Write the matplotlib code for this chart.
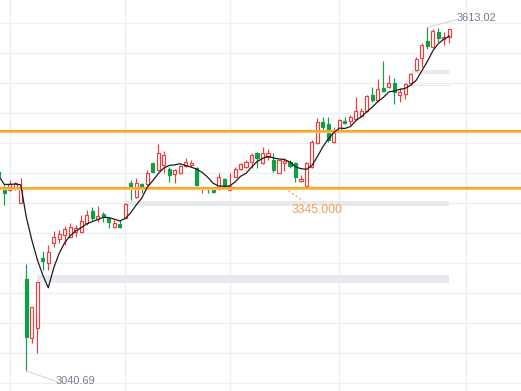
import matplotlib
matplotlib.use('Agg')
import matplotlib.pyplot as plt
import pandas as pd

# ---- data (index = trading day) ----
opens = [3372.1, 3343.8, 3342.1, 3343.3, 3320.5, 3193.8, 3095.5, 3112.1, 3228.8, 3220.5,
         3253.8, 3260.5, 3267.1, 3263.8, 3272.1, 3272.6, 3287.1, 3307.6, 3294.3, 3302.1,
         3296.0, 3281.0, 3285.5, 3296.0, 3354.3, 3331.0, 3352.1, 3352.1, 3386.6, 3375.5,
         3383.8, 3376.6, 3368.8, 3371.0, 3382.1, 3383.3, 3378.3, 3343.3, 3346.6, 3345.0,
         3343.3, 3360.5, 3342.1, 3364.3, 3376.6, 3381.0, 3389.3, 3404.3, 3386.6, 3396.6,
         3392.1, 3370.0, 3386.6, 3388.8, 3386.6, 3357.1, 3348.8, 3381.0, 3420.0, 3456.0,
         3452.1, 3422.6, 3439.3, 3457.6, 3457.1, 3461.0, 3465.5, 3474.3, 3500.5, 3492.1,
         3511.6, 3513.3, 3520.0, 3500.5, 3502.1, 3520.0, 3542.1, 3561.6, 3590.5, 3580.0,
         3605.0, 3593.3, 3597.6]
highs = [3374.3, 3350.5, 3358.8, 3356.0, 3362.1, 3218.8, 3147.1, 3188.8, 3241.0, 3250.5,
         3273.8, 3275.5, 3282.1, 3287.6, 3283.8, 3300.5, 3308.8, 3314.3, 3315.5, 3306.0,
         3297.6, 3292.1, 3292.1, 3320.0, 3358.8, 3361.6, 3354.3, 3375.5, 3387.6, 3418.8,
         3407.6, 3380.0, 3376.6, 3383.8, 3395.0, 3392.1, 3381.0, 3347.6, 3347.6, 3347.6,
         3370.0, 3361.6, 3370.0, 3380.0, 3387.6, 3392.1, 3403.3, 3406.0, 3414.3, 3410.0,
         3403.3, 3392.1, 3395.0, 3392.1, 3389.3, 3367.1, 3389.3, 3425.5, 3461.6, 3463.3,
         3464.3, 3446.6, 3460.0, 3463.8, 3467.1, 3497.6, 3478.3, 3500.5, 3513.3, 3527.1,
         3557.1, 3533.8, 3528.3, 3511.6, 3520.0, 3536.6, 3563.3, 3586.6, 3613.02, 3610.0,
         3611.6, 3606.0, 3611.0]
lows = [3362.1, 3317.1, 3340.5, 3342.1, 3320.5, 3040.69, 3087.1, 3070.5, 3208.8, 3208.8,
        3247.1, 3253.8, 3250.5, 3261.6, 3263.3, 3270.0, 3283.8, 3292.1, 3289.3, 3289.3,
        3279.3, 3278.3, 3278.3, 3295.0, 3325.5, 3328.3, 3336.6, 3350.5, 3371.0, 3374.3,
        3370.0, 3356.0, 3354.3, 3368.8, 3381.0, 3381.0, 3348.8, 3336.6, 3336.6, 3336.6,
        3342.1, 3347.6, 3342.1, 3364.3, 3375.5, 3378.3, 3378.3, 3378.3, 3385.5, 3392.1,
        3372.6, 3370.0, 3374.3, 3378.8, 3356.0, 3356.0, 3348.8, 3378.3, 3418.8, 3439.3,
        3422.6, 3421.0, 3438.3, 3452.1, 3450.5, 3460.5, 3463.3, 3472.6, 3489.3, 3489.3,
        3506.0, 3511.6, 3485.5, 3489.3, 3493.3, 3517.1, 3541.0, 3547.6, 3576.6, 3578.3,
        3589.3, 3583.8, 3586.6]
closes = [3365.5, 3337.1, 3352.1, 3353.3, 3345.5, 3097.1, 3147.1, 3188.8, 3223.8, 3238.8,
          3263.8, 3268.8, 3277.1, 3281.0, 3278.8, 3291.0, 3300.5, 3295.5, 3298.8, 3297.1,
          3289.3, 3287.6, 3280.0, 3318.3, 3345.0, 3354.3, 3343.8, 3371.0, 3372.6, 3404.3,
          3400.5, 3367.1, 3375.5, 3382.1, 3389.3, 3387.6, 3350.5, 3347.6, 3343.3, 3338.3,
          3364.3, 3348.8, 3349.3, 3376.6, 3385.5, 3389.3, 3400.5, 3395.0, 3403.3, 3403.3,
          3375.5, 3392.1, 3390.5, 3382.1, 3363.3, 3360.5, 3386.6, 3422.6, 3456.0, 3446.6,
          3425.5, 3439.3, 3458.8, 3453.3, 3463.0, 3473.8, 3473.8, 3498.8, 3492.1, 3510.0,
          3507.6, 3520.0, 3506.0, 3505.5, 3518.8, 3535.5, 3560.5, 3583.8, 3582.6, 3607.6,
          3596.0, 3597.6, 3610.0]

support_levels = [3440.0, 3345.0]
level_label = "3345.000"
high_label = "3613.02"
low_label = "3040.69"
# gap zones: (start index, end index, low price, high price)
gap_zones = [(7, 82, 3187.6, 3200.5), (23, 82, 3315.5, 3324.3), (75, 82, 3535.5, 3542.1)]
gap_lines = [(75, 82, 3517.0)]
month_ticks = [2, 23, 42, 62, 85]
price_grid = [3020, 3070, 3120, 3170, 3220, 3270, 3320, 3370, 3420, 3470, 3520, 3570, 3620]

RED = '#ef3b3b'
GREEN = '#0e9f47'
ORANGE = '#f7a11a'

fig = plt.figure(figsize=(5.21, 3.91), dpi=100)
ax = fig.add_axes([0, 0, 1, 1])
ax.set_xlim(0.218, 95.05)
ax.set_ylim(3007.1, 3658.8)
for s in ax.spines.values():
    s.set_visible(False)
ax.set_xticks(month_ticks)
ax.set_yticks(price_grid)
ax.tick_params(length=0, labelbottom=False, labelleft=False)
ax.grid(True, color='#eceff3', lw=0.9, zorder=0)
ax.set_axisbelow(True)

# gap zones
for s, e, lo, hi in gap_zones:
    ax.fill_between([s, e], lo, hi, color='#e6e9ee', lw=0, zorder=1)
for s, e, p in gap_lines:
    ax.plot([s, e], [p, p], color='#e3e6eb', lw=0.8, zorder=1)

# candles
idx = list(range(len(closes)))
wcol = [RED if c >= o else GREEN for o, c in zip(opens, closes)]
ax.vlines(idx, lows, highs, colors=wcol, lw=0.85, zorder=2)
for i, (o, c) in enumerate(zip(opens, closes)):
    lo = min(o, c)
    h = max(abs(c - o), 0.9)
    if c >= o:
        ax.bar(i, h, bottom=lo, width=0.56, facecolor='white', edgecolor=RED, lw=0.85, zorder=3)
    else:
        ax.bar(i, h, bottom=lo, width=0.56, facecolor=GREEN, edgecolor=GREEN, lw=0.85, zorder=3)

# support / resistance lines
for lvl in support_levels:
    ax.axhline(lvl, color='#fbc56a', lw=2.3, zorder=4)
    ax.axhline(lvl, color=ORANGE, lw=1.1, zorder=4)

# moving average
ma5 = pd.Series(closes).rolling(5, min_periods=1).mean()
ax.plot(idx, ma5, color='#1c1c1c', lw=0.9, zorder=5)

# annotations
hi_i = highs.index(max(highs))
lo_i = lows.index(min(lows))
ax.plot([hi_i, 83.2], [highs[hi_i], 3625.5], color='#d3d7dd', lw=0.8, zorder=5)
ax.text(83.4, 3628.8, high_label, fontsize=7.9, color='#737c88',
        family='Liberation Sans', ha='left', va='center', zorder=6)
ax.plot([lo_i, 10.2], [lows[lo_i], 3023.8], color='#d3d7dd', lw=0.8, zorder=5)
ax.text(10.4, 3024.6, low_label, fontsize=7.9, color='#737c88',
        family='Liberation Sans', ha='left', va='center', zorder=6)
ax.plot([52.1, 55.4], [support_levels[1], 3323.9], color='#f5a04a', lw=0.9,
        ls=(0, (1.5, 2)), zorder=5)
ax.text(53.3, 3308.0, level_label, fontsize=8.7, color='#f7a04c',
        family='Liberation Sans', ha='left', va='center', zorder=6)

fig.savefig('out.png', dpi=100)
